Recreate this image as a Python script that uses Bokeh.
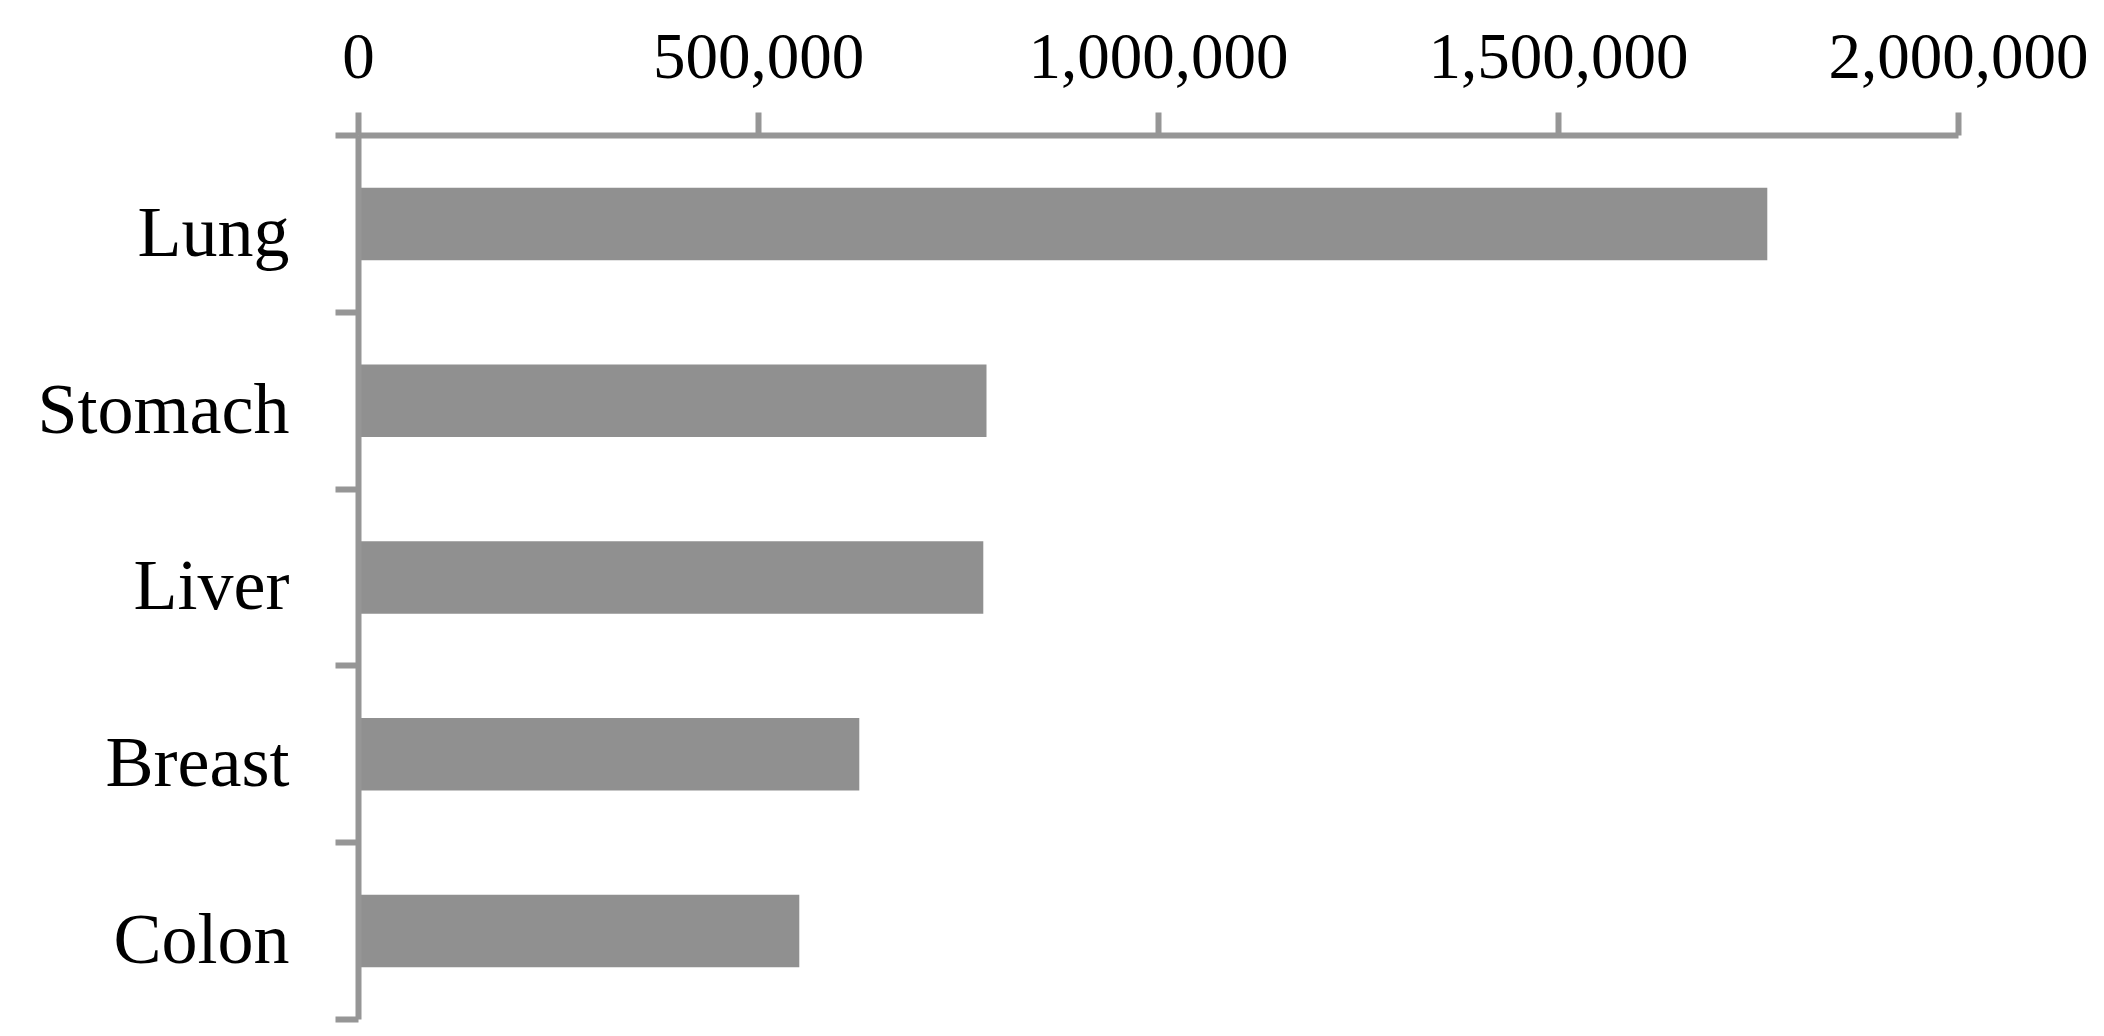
from bokeh.plotting import figure
from bokeh.models import Range1d, FixedTicker, NumeralTickFormatter, ColumnDataSource
from bokeh.embed import file_html
from bokeh.resources import INLINE

# Data
categories = ["Lung", "Stomach", "Liver", "Breast", "Colon"]
deaths = [1761000, 785000, 781000, 626000, 551000]
x_ticks = [0, 500000, 1000000, 1500000, 2000000]

# category slots: centre of slot i is i + 0.5, boundaries at integers
centers = [i + 0.5 for i in range(len(categories))]
boundaries = list(range(len(categories) + 1))
# label anchor nudged slightly below the slot centre (font baseline match)
label_pos = [c + 0.045 for c in centers]

src = ColumnDataSource(dict(y=centers, right=deaths, name=categories))

p = figure(
    width=2096, height=1028,
    x_range=Range1d(0, 2000000),
    y_range=Range1d(len(categories), 0),
    x_axis_location="above",
    output_backend="svg",
    toolbar_location=None,
    min_border_left=358, min_border_right=138,
    min_border_top=135, min_border_bottom=9,
)
p.outline_line_color = None
p.grid.visible = False
p.background_fill_color = "white"
p.border_fill_color = "white"

p.hbar(y="y", right="right", left=0, height=0.41, source=src,
       fill_color="#909090", line_color=None)

axis_color = "#969696"
font = "Liberation Serif"

xa = p.xaxis[0]
xa.ticker = FixedTicker(ticks=x_ticks)
xa.formatter = NumeralTickFormatter(format="0,0")
xa.axis_line_color = axis_color
xa.axis_line_width = 6
xa.major_tick_line_color = axis_color
xa.major_tick_line_width = 6
xa.major_tick_out = 23
xa.major_tick_in = 0
xa.minor_tick_line_color = None
xa.major_label_text_font = font
xa.major_label_text_font_size = "65px"
xa.major_label_text_color = "black"
xa.major_label_standoff = 35

ya = p.yaxis[0]
ya.ticker = FixedTicker(ticks=label_pos, minor_ticks=boundaries)
ya.major_label_overrides = {c: n for c, n in zip(label_pos, categories)}
ya.axis_line_color = axis_color
ya.axis_line_width = 6
ya.major_tick_line_color = None
ya.major_tick_out = 0
ya.major_tick_in = 0
ya.minor_tick_line_color = axis_color
ya.minor_tick_line_width = 6
ya.minor_tick_out = 23
ya.minor_tick_in = 0
ya.major_label_text_font = font
ya.major_label_text_font_size = "72px"
ya.major_label_text_color = "black"
ya.major_label_standoff = 46

open("out.html", "w").write(file_html(p, INLINE))
